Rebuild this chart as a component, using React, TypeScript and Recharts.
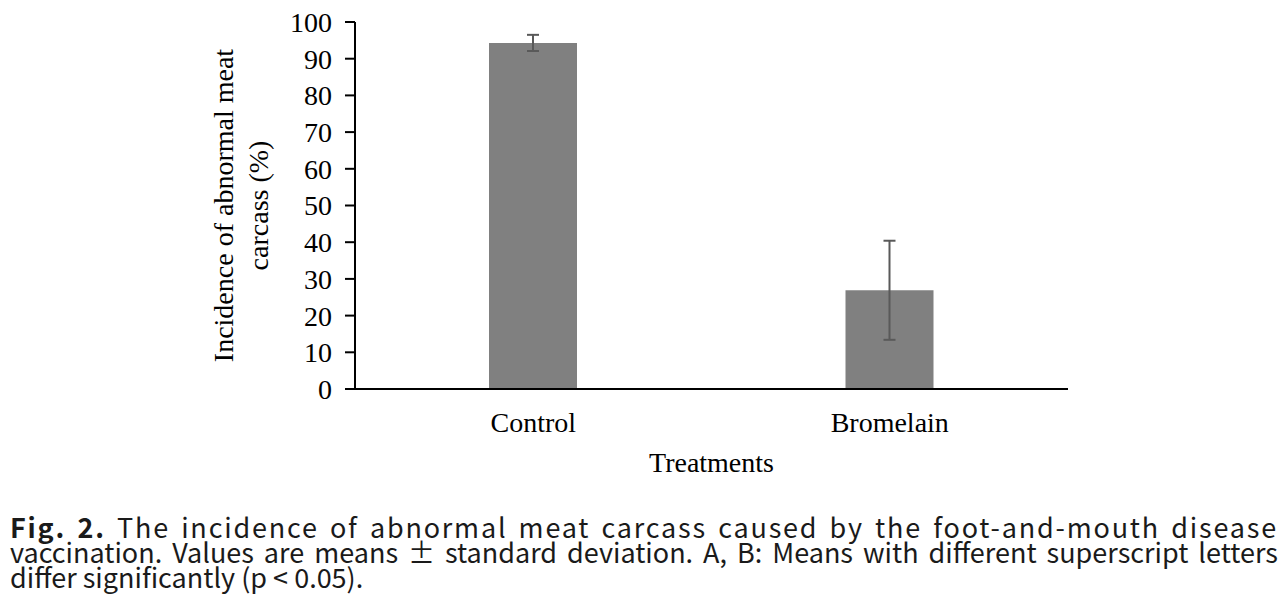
import { BarChart, Bar, XAxis, YAxis, ErrorBar, Label } from 'recharts';

const categories = ['Control', 'Bromelain'];
const means = [94.3, 26.9];
const sds = [2.2, 13.5];
const yTicks = [0, 10, 20, 30, 40, 50, 60, 70, 80, 90, 100];

const data = categories.map((name, i) => ({ name, mean: means[i], sd: sds[i] }));

const serif = '"Liberation Serif", "Times New Roman", serif';

function YLabel({ viewBox }: any) {
    const cy = viewBox.y + viewBox.height / 2;
    return (
        <g fontFamily={serif} fontSize={28} fill="#000">
            <text x={233} y={cy} textAnchor="middle" transform={`rotate(-90 233 ${cy})`}>
                Incidence of abnormal meat
            </text>
            <text x={268} y={cy} textAnchor="middle" transform={`rotate(-90 268 ${cy})`}>
                carcass (%)
            </text>
        </g>
    );
}

function XLabel({ viewBox }: any) {
    return (
        <text x={viewBox.x + viewBox.width / 2} y={viewBox.y + 83} textAnchor="middle"
            fontFamily={serif} fontSize={28} fill="#000">
            Treatments
        </text>
    );
}

export default function App() {
    return (
        <div style={{ position: 'absolute', left: 0, top: 0, width: 1288, height: 610, background: '#fff' }}>
            <BarChart width={1288} height={480} data={data} margin={{ top: 22, right: 220, bottom: 0, left: 200 }}>
                <XAxis dataKey="name" height={91} tickLine={false} tickSize={0} tickMargin={23}
                    axisLine={{ stroke: '#000', strokeWidth: 2 }}
                    tick={{ fill: '#000', fontSize: 28, fontFamily: serif }}>
                    <Label content={XLabel} />
                </XAxis>
                <YAxis width={155} domain={[0, 100]} ticks={yTicks} interval={0} tickSize={10} tickMargin={13}
                    axisLine={{ stroke: '#000', strokeWidth: 2 }}
                    tickLine={{ stroke: '#000', strokeWidth: 2 }}
                    tick={{ fill: '#000', fontSize: 28, fontFamily: serif }}>
                    <Label content={YLabel} />
                </YAxis>
                <Bar dataKey="mean" fill="#808080" barSize={88} isAnimationActive={false}>
                    <ErrorBar dataKey="sd" width={6} stroke="#595959" strokeWidth={2} />
                </Bar>
            </BarChart>
            <div style={{ position: 'absolute', left: 10, top: 514, width: 1268, fontFamily: '"Noto Sans CJK KR", "Noto Sans", sans-serif', fontSize: 27, lineHeight: '25px', color: '#1a1a1a' }}>
                <div style={{ textAlign: 'justify', textAlignLast: 'justify', whiteSpace: 'nowrap', letterSpacing: 1.8 }}>
                    <b>Fig. 2.</b> The incidence of abnormal meat carcass caused by the foot-and-mouth disease
                </div>
                <div style={{ textAlign: 'justify', textAlignLast: 'justify', whiteSpace: 'nowrap' }}>
                    vaccination. Values are means ± standard deviation. A, B: Means with different superscript letters
                </div>
                <div>differ significantly (p &lt; 0.05).</div>
            </div>
        </div>
    );
}
